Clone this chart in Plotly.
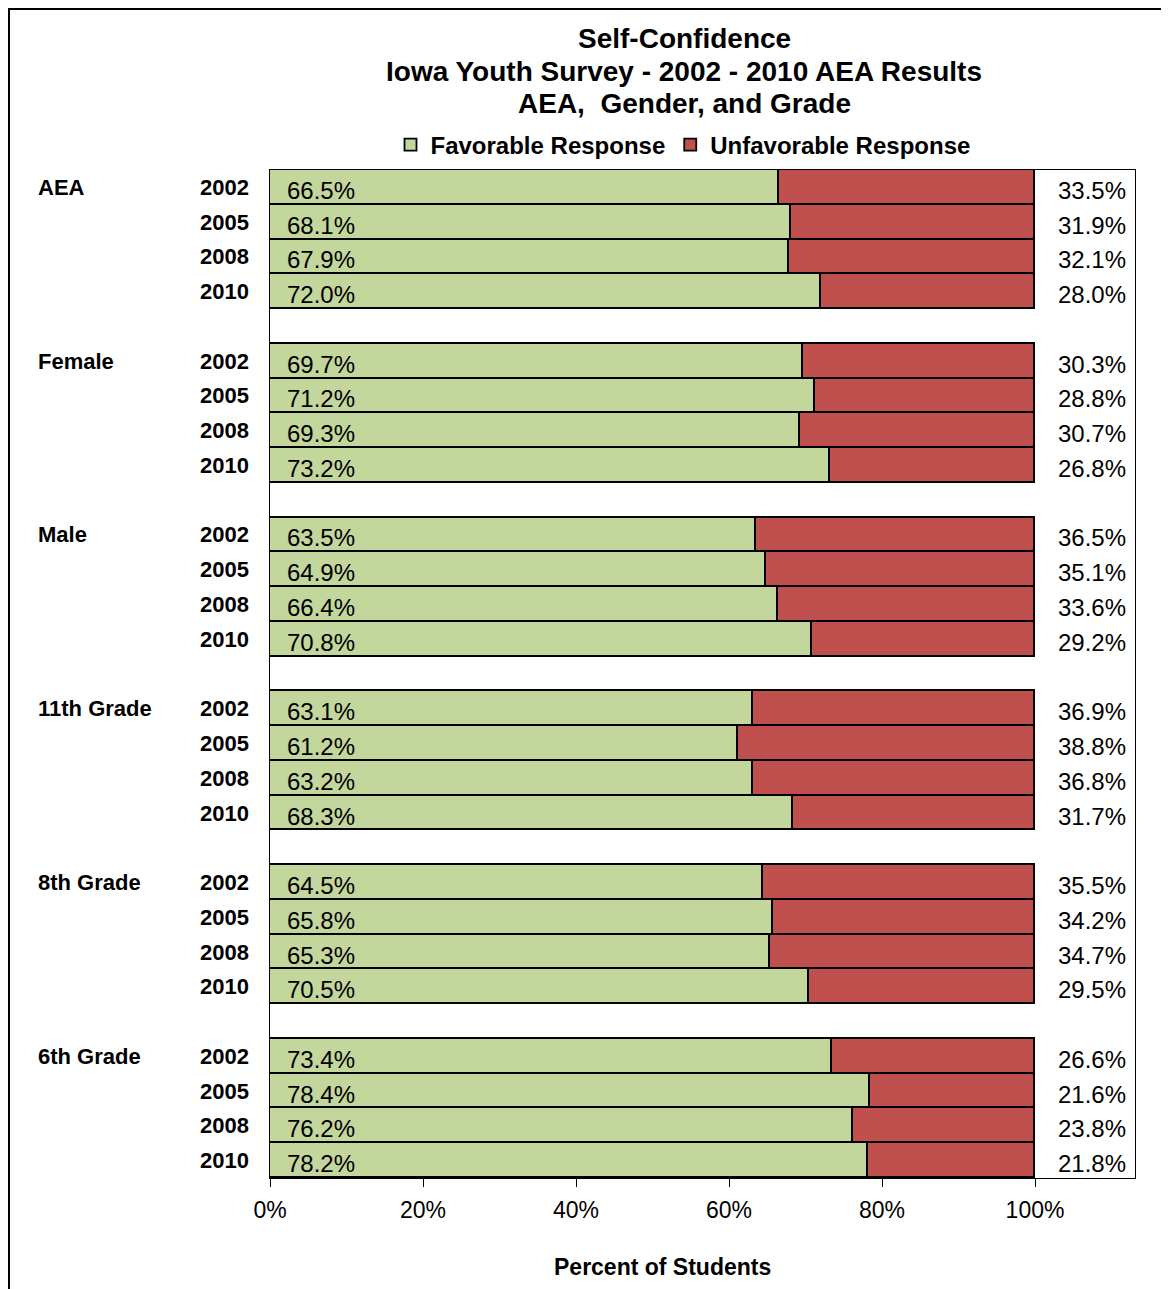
import plotly.graph_objects as go

groups = ["AEA", "Female", "Male", "11th Grade", "8th Grade", "6th Grade"]
years = ["2002", "2005", "2008", "2010"]
favorable = [
    66.5, 68.1, 67.9, 72.0,
    69.7, 71.2, 69.3, 73.2,
    63.5, 64.9, 66.4, 70.8,
    63.1, 61.2, 63.2, 68.3,
    64.5, 65.8, 65.3, 70.5,
    73.4, 78.4, 76.2, 78.2,
]
unfavorable = [
    33.5, 31.9, 32.1, 28.0,
    30.3, 28.8, 30.7, 26.8,
    36.5, 35.1, 33.6, 29.2,
    36.9, 38.8, 36.8, 31.7,
    35.5, 34.2, 34.7, 29.5,
    26.6, 21.6, 23.8, 21.8,
]
x_ticks = [0, 20, 40, 60, 80, 100]
x_tick_labels = ["0%", "20%", "40%", "60%", "80%", "100%"]

FONT = "Liberation Sans, Arial, sans-serif"
GREEN = "#C3D69B"
RED = "#C0504D"

# screen-pixel helpers (page body has an 8px margin)
PL, PR, PT, PB = 270, 1135, 170, 1178


def px_x(px):
    return (px - PL) / (PR - PL)


def px_y(py):
    return (PB - py) / (PB - PT)


n_years = len(years)
ypos = []
ylabels = []
for g in range(len(groups)):
    for i in range(n_years):
        ypos.append(g * (n_years + 1) + i)
        ylabels.append(years[i])

fig = go.Figure()
fig.add_trace(go.Bar(
    y=ypos, x=favorable, orientation="h", name="Favorable Response",
    marker=dict(color=GREEN, line=dict(color="black", width=1.8)),
    width=1.0, hoverinfo="x",
))
fig.add_trace(go.Bar(
    y=ypos, x=unfavorable, orientation="h", name="Unfavorable Response",
    marker=dict(color=RED, line=dict(color="black", width=1.8)),
    width=1.0, hoverinfo="x",
))

annotations = []
for k, y in enumerate(ypos):
    annotations.append(dict(
        x=2.0, y=y, xref="x", yref="y", text=f"{favorable[k]:.1f}%",
        showarrow=False, xanchor="left", yanchor="middle", yshift=-3,
        font=dict(family=FONT, size=24, color="black"),
    ))
    annotations.append(dict(
        x=112.2, y=y, xref="x", yref="y", text=f"{unfavorable[k]:.1f}%",
        showarrow=False, xanchor="right", yanchor="middle", yshift=-3,
        font=dict(family=FONT, size=24, color="black"),
    ))
    annotations.append(dict(
        x=px_x(251), y=y, xref="paper", yref="y", text=f"<b>{ylabels[k]}</b>",
        showarrow=False, xanchor="right", yanchor="middle",
        font=dict(family=FONT, size=22, color="black"),
    ))
for g, name in enumerate(groups):
    annotations.append(dict(
        x=px_x(36), y=g * (n_years + 1), xref="paper", yref="y",
        text=f"<b>{name}</b>", showarrow=False, xanchor="left", yanchor="middle",
        font=dict(family=FONT, size=22, color="black"),
    ))

title_lines = ["Self-Confidence", "Iowa Youth Survey - 2002 - 2010 AEA Results", "AEA,  Gender, and Grade"]
title_y = [38, 72, 103]
for t, py in zip(title_lines, title_y):
    annotations.append(dict(
        x=px_x(684), y=px_y(py), xref="paper", yref="paper",
        text=f"<b>{t}</b>", showarrow=False, xanchor="center", yanchor="middle",
        font=dict(family=FONT, size=28, color="black"),
    ))

annotations.append(dict(
    x=px_x(662), y=px_y(1267), xref="paper", yref="paper",
    text="<b>Percent of Students</b>", showarrow=False, xanchor="center", yanchor="middle",
    font=dict(family=FONT, size=23, color="black"),
))

fig.update_layout(
    width=1169, height=1289,
    margin=dict(l=PL - 8, r=1169 - PR + 8, t=PT - 8, b=1289 - PB + 8),
    barmode="stack",
    paper_bgcolor="white", plot_bgcolor="white",
    font=dict(family=FONT, color="black"),
    bargap=0,
    showlegend=True,
    legend=dict(
        orientation="h", x=px_x(683), y=px_y(145),
        xanchor="center", yanchor="middle",
        font=dict(family=FONT, size=24, color="black", weight="bold"),
        itemwidth=30, traceorder="normal", bgcolor="rgba(0,0,0,0)",
    ),
    annotations=annotations,
    xaxis=dict(
        range=[0, (PR - PL) / 765 * 100], tickvals=x_ticks, ticktext=x_tick_labels,
        showgrid=False, zeroline=False, showline=True, linecolor="black", linewidth=1,
        mirror=True, ticks="outside", ticklen=8, tickcolor="black",
        ticklabelstandoff=3,
        tickfont=dict(family=FONT, size=23, color="black"),
    ),
    yaxis=dict(
        range=[len(groups) * (n_years + 1) - 1.5, -0.5], showticklabels=False,
        showgrid=False, zeroline=False, showline=True, linecolor="black", linewidth=1,
        mirror=True, ticks="",
    ),
    shapes=[dict(
        type="rect", xref="paper", yref="paper",
        x0=px_x(9), x1=px_x(1185),
        y0=px_y(1310), y1=px_y(9),
        line=dict(color="black", width=2), fillcolor="rgba(0,0,0,0)", layer="below",
    )],
)

fig.write_html("out.html")
